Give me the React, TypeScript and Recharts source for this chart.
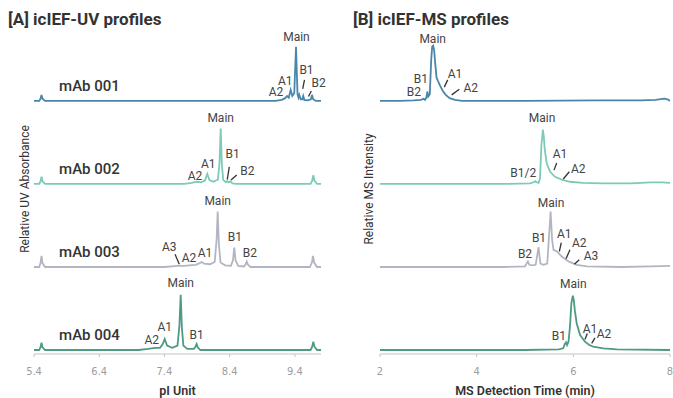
import React from "react";
import { LineChart, Line, XAxis, YAxis, ReferenceDot, ReferenceLine } from "recharts";

type Pt = [number, number];
type Note = { text: string; x: number; y: number; line?: [number, number, number, number] };

// icIEF-UV traces, [pI, relative absorbance]
const uvMab001: Pt[] = [
  [5.4, 0], [5.48, 0], [5.5, 4], [5.515, 11], [5.53, 4], [5.57, 0], [9.1, 0], [9.2, 2], [9.25, 5],
  [9.28, 9], [9.305, 6], [9.335, 20], [9.36, 9], [9.39, 14], [9.417, 98], [9.44, 12], [9.455, 6],
  [9.467, 11], [9.49, 3], [9.515, 3], [9.528, 9], [9.545, 2], [9.6, 1], [9.645, 3], [9.662, 11],
  [9.68, 3], [9.72, 0], [9.8, 0],
];
const uvMab002: Pt[] = [
  [5.4, 0], [5.48, 0], [5.5, 5], [5.515, 13], [5.53, 5], [5.57, 0], [7.7, 0], [7.82, 2], [7.89, 4],
  [7.96, 3], [8.02, 6], [8.057, 18], [8.09, 7], [8.15, 4], [8.22, 8], [8.245, 40], [8.262, 100],
  [8.28, 35], [8.3, 8], [8.34, 3], [8.36, 5], [8.385, 3], [8.41, 5], [8.44, 1], [8.5, 0], [9.64, 0],
  [9.665, 6], [9.682, 16], [9.7, 6], [9.74, 0], [9.8, 0],
];
const uvMab003: Pt[] = [
  [5.4, 0], [5.48, 0], [5.5, 7], [5.515, 20], [5.53, 7], [5.57, 0], [7.4, 0], [7.6, 2], [7.7, 2],
  [7.78, 3], [7.88, 4], [7.94, 7], [7.971, 9], [8.01, 6], [8.1, 5], [8.17, 9], [8.2, 50], [8.216, 100],
  [8.235, 40], [8.26, 8], [8.33, 3], [8.42, 2], [8.45, 12], [8.471, 35], [8.49, 12], [8.53, 2],
  [8.62, 1], [8.645, 5], [8.661, 10], [8.68, 4], [8.72, 0], [9.63, 0], [9.66, 8], [9.677, 20],
  [9.695, 8], [9.74, 0], [9.8, 0],
];
const uvMab004: Pt[] = [
  [5.4, 0], [5.48, 0], [5.5, 5], [5.515, 13], [5.53, 5], [5.57, 0], [7.0, 0], [7.15, 2], [7.255, 4],
  [7.33, 4], [7.37, 10], [7.404, 20], [7.44, 8], [7.52, 4], [7.6, 8], [7.63, 45], [7.649, 100],
  [7.667, 40], [7.69, 8], [7.75, 2], [7.85, 2], [7.875, 6], [7.894, 11], [7.91, 5], [7.95, 0],
  [9.64, 0], [9.665, 6], [9.682, 15], [9.7, 6], [9.74, 0], [9.8, 0],
];

// icIEF-MS traces, [detection time (min), relative intensity]
const msMab001: Pt[] = [
  [2.0, 0], [2.4, 0], [2.7, 1], [2.85, 2], [2.9, 4], [2.93, 2], [2.96, 6], [2.98, 17], [3.0, 8],
  [3.03, 12], [3.06, 75], [3.08, 98], [3.1, 100], [3.12, 92], [3.14, 70], [3.17, 42], [3.2, 36],
  [3.24, 28], [3.3, 18], [3.36, 11], [3.44, 5], [3.55, 2], [3.7, 0], [5.0, 0], [6.5, 1], [7.4, 1],
  [7.7, 2], [7.88, 4], [7.95, 3], [8.0, 0],
];
const msMab002: Pt[] = [
  [2.0, 0], [3.5, 0], [4.5, 0], [5.1, 1], [5.18, 3], [5.21, 5], [5.24, 3], [5.28, 2], [5.31, 10],
  [5.34, 70], [5.37, 98], [5.39, 85], [5.41, 61], [5.45, 37], [5.52, 22], [5.62, 13], [5.76, 8],
  [5.93, 4], [6.2, 2], [6.6, 1], [7.2, 1], [7.6, 3], [7.85, 3], [8.0, 2],
];
const msMab003: Pt[] = [
  [2.0, 0], [4.5, 0], [5.0, 1], [5.03, 6], [5.06, 10], [5.09, 4], [5.15, 3], [5.22, 4], [5.26, 25],
  [5.28, 36], [5.3, 20], [5.32, 6], [5.38, 4], [5.46, 6], [5.5, 60], [5.53, 100], [5.56, 50],
  [5.59, 31], [5.66, 28], [5.76, 19], [5.9, 10], [6.07, 4], [6.28, 1], [7.0, 0], [7.6, 1], [8.0, 2],
];
const msMab004: Pt[] = [
  [2.0, 0], [5.0, 0], [5.7, 1], [5.79, 3], [5.82, 10], [5.85, 14], [5.87, 9], [5.9, 15], [5.93, 42],
  [5.96, 85], [5.99, 98], [6.01, 90], [6.03, 72], [6.07, 48], [6.14, 27], [6.24, 15], [6.33, 9],
  [6.41, 6], [6.62, 3], [6.9, 1], [8.0, 0],
];

const traceNames = ["mAb 001", "mAb 002", "mAb 003", "mAb 004"];
const uvTicks = [5.4, 6.4, 7.4, 8.4, 9.4];
const msTicks = [2, 4, 6, 8];

// peak labels: x on the axis, y as intensity above the trace baseline
const uvNotes: Note[][] = [
  [
    { text: "Main", x: 9.424, y: 116 },
    { text: "A1", x: 9.251, y: 36 },
    { text: "A2", x: 9.11, y: 16 },
    { text: "B1", x: 9.578, y: 57, line: [9.519, 22, 9.547, 38] },
    { text: "B2", x: 9.765, y: 32, line: [9.608, 8, 9.651, 18] },
  ],
  [
    { text: "Main", x: 8.262, y: 119 },
    { text: "A1", x: 8.072, y: 37 },
    { text: "A2", x: 7.868, y: 15 },
    { text: "B1", x: 8.446, y: 54, line: [8.363, 8, 8.394, 31] },
    { text: "B2", x: 8.67, y: 24, line: [8.42, 7, 8.508, 16] },
  ],
  [
    { text: "Main", x: 8.216, y: 120 },
    { text: "A1", x: 8.022, y: 25 },
    { text: "A2", x: 7.776, y: 16 },
    { text: "A3", x: 7.474, y: 37, line: [7.562, 23, 7.628, 5] },
    { text: "B1", x: 8.481, y: 55 },
    { text: "B2", x: 8.711, y: 26 },
  ],
  [
    { text: "Main", x: 7.649, y: 122 },
    { text: "A1", x: 7.404, y: 42 },
    { text: "A2", x: 7.204, y: 19 },
    { text: "B1", x: 7.894, y: 27 },
  ],
];
const msNotes: Note[][] = [
  [
    { text: "Main", x: 3.09, y: 113 },
    { text: "B1", x: 2.848, y: 40 },
    { text: "B2", x: 2.703, y: 17 },
    { text: "A1", x: 3.552, y: 49, line: [3.33, 25, 3.401, 38] },
    { text: "A2", x: 3.877, y: 23, line: [3.483, 11, 3.641, 21] },
  ],
  [
    { text: "Main", x: 5.352, y: 119 },
    { text: "B1/2", x: 4.965, y: 20 },
    { text: "A1", x: 5.724, y: 54, line: [5.6, 25, 5.656, 38] },
    { text: "A2", x: 6.103, y: 27, line: [5.792, 9, 5.917, 22] },
  ],
  [
    { text: "Main", x: 5.538, y: 116 },
    { text: "B1", x: 5.29, y: 52 },
    { text: "B2", x: 5.0, y: 24 },
    { text: "A1", x: 5.813, y: 60, line: [5.71, 28, 5.751, 44] },
    { text: "A2", x: 6.123, y: 44, line: [5.848, 15, 5.931, 31] },
    { text: "A3", x: 6.366, y: 20, line: [6.02, 5, 6.123, 13] },
  ],
  [
    { text: "Main", x: 6.0, y: 119 },
    { text: "B1", x: 5.703, y: 25 },
    { text: "A1", x: 6.345, y: 39, line: [6.241, 19, 6.289, 30] },
    { text: "A2", x: 6.634, y: 29, line: [6.38, 12, 6.448, 22] },
  ],
];

const COLORS = ["#4a86aa", "#7ccab7", "#b3b6c2", "#4e9a84"];
const STEP = 150; // vertical stacking between traces
const Y_DOMAIN: [number, number] = [-7.2, 589];
const TICK_FONT = "'Liberation Sans Narrow', 'DejaVu Sans Condensed', Roboto, sans-serif";

interface PanelProps {
  width: number;
  plotLeft: number;
  plotRight: number;
  xDomain: [number, number];
  ticks: number[];
  traces: Pt[][];
  notes: Note[][];
  xLabel: string;
  yLabel: string;
  yLabelX: number;
  names?: string[];
  nameX?: number;
}

function Panel(props: PanelProps) {
  const { width, plotLeft, plotRight, xDomain, ticks, traces, notes, xLabel, yLabel, yLabelX, names, nameX } = props;
  const base = (i: number) => (traces.length - 1 - i) * STEP;
  const series = traces.map((t, i) => t.map(([x, v]) => ({ x, y: base(i) + v })));

  return (
    <LineChart width={width} height={398} margin={{ top: 24, right: width - plotRight, bottom: 0, left: 0 }}>
      <XAxis
        type="number"
        dataKey="x"
        domain={xDomain}
        ticks={ticks}
        allowDataOverflow
        height={44}
        tickSize={3}
        tickMargin={10}
        axisLine={{ stroke: "#c4c4c4" }}
        tickLine={{ stroke: "#c4c4c4" }}
        tick={{ fontSize: 11, fill: "#9c9c9c", fontFamily: TICK_FONT }}
        label={{ value: xLabel, position: "insideBottom", offset: 3, fill: "#333", fontSize: 12.5, fontWeight: 600 }}
      />
      <YAxis
        type="number"
        domain={Y_DOMAIN}
        allowDataOverflow
        width={plotLeft}
        axisLine={false}
        tickLine={false}
        tick={false}
        label={{
          value: yLabel,
          angle: -90,
          position: "insideLeft",
          offset: yLabelX,
          fill: "#333",
          fontSize: 12,
          style: { textAnchor: "middle" },
        }}
      />
      {series.map((d, i) => (
        <Line
          key={`trace-${i}`}
          data={d}
          dataKey="y"
          type="linear"
          stroke={COLORS[i]}
          strokeWidth={1.8}
          dot={false}
          activeDot={false}
          isAnimationActive={false}
        />
      ))}
      {notes.map((list, i) =>
        list.map((n, j) =>
          n.line ? (
            <ReferenceLine
              key={`lead-${i}-${j}`}
              segment={[
                { x: n.line[0], y: base(i) + n.line[1] },
                { x: n.line[2], y: base(i) + n.line[3] },
              ]}
              stroke="#333"
              strokeWidth={1.3}
              ifOverflow="visible"
            />
          ) : null
        )
      )}
      {notes.map((list, i) =>
        list.map((n, j) => (
          <ReferenceDot
            key={`note-${i}-${j}`}
            x={n.x}
            y={base(i) + n.y}
            r={0}
            fill="none"
            stroke="none"
            ifOverflow="visible"
            label={{ value: n.text, position: "center", fill: "#444", fontSize: 12 }}
          />
        ))
      )}
      {names &&
        names.map((name, i) => (
          <ReferenceDot
            key={`name-${i}`}
            x={nameX}
            y={base(i) + 27}
            r={0}
            fill="none"
            stroke="none"
            ifOverflow="visible"
            label={{ value: name, position: "center", fill: "#333", fontSize: 15, fontWeight: 500 }}
          />
        ))}
    </LineChart>
  );
}

const titleStyle: React.CSSProperties = {
  position: "absolute",
  top: 9,
  fontSize: 17,
  lineHeight: "20px",
  fontWeight: 700,
  color: "#333",
  whiteSpace: "nowrap",
};

export default function App() {
  return (
    <div
      style={{
        position: "absolute",
        left: 0,
        top: 0,
        width: 673,
        height: 398,
        background: "#fff",
        fontFamily: "Roboto, 'Liberation Sans', sans-serif",
        overflow: "hidden",
      }}
    >
      <div style={{ position: "absolute", left: 0, top: 0 }}>
        <Panel
          width={340}
          plotLeft={34}
          plotRight={321}
          xDomain={[5.4, 9.8]}
          ticks={uvTicks}
          traces={[uvMab001, uvMab002, uvMab003, uvMab004]}
          notes={uvNotes}
          xLabel="pI Unit"
          yLabel="Relative UV Absorbance"
          yLabelX={25}
          names={traceNames}
          nameX={6.25}
        />
      </div>
      <div style={{ position: "absolute", left: 340, top: 0 }}>
        <Panel
          width={333}
          plotLeft={40}
          plotRight={330}
          xDomain={[2, 8]}
          ticks={msTicks}
          traces={[msMab001, msMab002, msMab003, msMab004]}
          notes={msNotes}
          xLabel="MS Detection Time (min)"
          yLabel="Relative MS Intensity"
          yLabelX={29}
        />
      </div>
      <div style={{ ...titleStyle, left: 8 }}>[A] icIEF-UV profiles</div>
      <div style={{ ...titleStyle, left: 353 }}>[B] icIEF-MS profiles</div>
    </div>
  );
}
